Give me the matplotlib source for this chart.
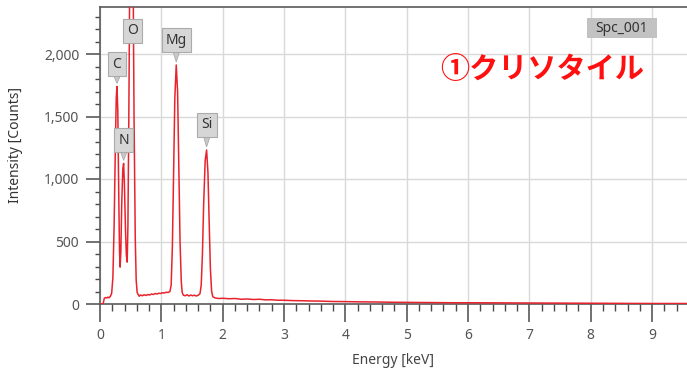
import matplotlib
matplotlib.use("Agg")
import matplotlib.pyplot as plt
from matplotlib.patches import Rectangle
from matplotlib.ticker import MultipleLocator, FuncFormatter

# ---- data ----
energy_kev = [0.00, 0.05, 0.07, 0.09, 0.11, 0.13, 0.15, 0.17, 0.19, 0.21, 0.23, 0.25,
              0.265, 0.277, 0.29, 0.305, 0.318, 0.328, 0.34, 0.355, 0.372, 0.385,
              0.398, 0.415, 0.43, 0.443, 0.455, 0.47, 0.49, 0.513, 0.535, 0.555,
              0.575, 0.59, 0.605, 0.62, 0.64, 0.66, 0.69, 0.72, 0.75, 0.78, 0.81,
              0.84, 0.87, 0.90, 0.93, 0.96, 0.99, 1.02, 1.05, 1.08, 1.11, 1.14,
              1.16, 1.18, 1.20, 1.22, 1.243, 1.265, 1.285, 1.305, 1.325, 1.34,
              1.36, 1.39, 1.42, 1.45, 1.48, 1.51, 1.54, 1.57, 1.60, 1.63, 1.65,
              1.67, 1.69, 1.715, 1.738, 1.76, 1.78, 1.80, 1.82, 1.84, 1.87, 1.90,
              1.95, 2.00, 2.10, 2.20, 2.30, 2.40, 2.50, 2.60, 2.70, 2.80, 2.90,
              3.00, 3.15, 3.30, 3.45, 3.60, 3.80, 4.00, 4.25, 4.50, 4.75, 5.00,
              5.25, 5.50, 5.75, 6.00, 6.50, 7.00, 7.50, 8.00, 8.50, 9.00, 9.60]
counts = [0, 0, 45, 52, 48, 55, 50, 62, 85, 210, 620, 1250,
          1650, 1740, 1550, 900, 420, 295, 420, 820, 1080, 1125,
          960, 600, 390, 335, 620, 1500, 3000, 4200, 3000, 1500,
          520, 190, 95, 78, 62, 72, 66, 74, 68, 76, 72,
          80, 76, 84, 80, 86, 84, 90, 88, 94, 92, 100,
          150, 460, 1050, 1650, 1912, 1700, 1100, 500, 180, 92,
          70, 66, 74, 64, 72, 66, 70, 64, 70, 82, 150,
          400, 800, 1150, 1232, 1050, 650, 280, 100, 58, 50, 46,
          44, 46, 42, 44, 38, 40, 36, 38, 33, 34, 30,
          30, 27, 26, 24, 23, 20, 19, 17, 16, 14, 13,
          12, 11, 10, 10, 9, 8, 7, 6, 5, 4, 4]

peak_labels = ["C", "N", "O", "Mg", "Si"]
peak_energy = [0.277, 0.385, 0.513, 1.243, 1.738]
peak_counts = [1740, 1125, 2100, 1912, 1232]
label_energy = [0.277, 0.39, 0.53, 1.246, 1.743]
label_counts = [1920, 1312, 2184, 2112, 1432]

x_max = 9.57
y_max = 2376
spectrum_name = "Spc_001"
sample_title = "①クリソタイル"

# ---- figure ----
W, H = 687, 371
fig = plt.figure(figsize=(W / 100, H / 100), dpi=100)
ax = fig.add_axes([100 / W, 67 / H, 587 / W, 297 / H])

font = "Noto Sans"
tick_col = "#4a4a4a"

ax.plot(energy_kev, counts, color="#e8232d", lw=1.1, zorder=3)

ax.set_xlim(0, x_max)
ax.set_ylim(0, y_max)

ax.xaxis.set_major_locator(MultipleLocator(1))
ax.xaxis.set_minor_locator(MultipleLocator(0.2))
ax.yaxis.set_major_locator(MultipleLocator(500))
ax.yaxis.set_minor_locator(MultipleLocator(100))
ax.yaxis.set_major_formatter(FuncFormatter(lambda v, p: f"{int(v):,}"))

ax.grid(True, which="major", color="#d9d9d9", lw=1.0, zorder=0)
ax.set_axisbelow(True)

ax.tick_params(axis="x", which="major", length=13, width=1.1, color=tick_col,
               pad=4, labelsize=10, labelcolor="#555555")
ax.tick_params(axis="x", which="minor", length=5, width=1.0, color=tick_col)
ax.tick_params(axis="y", which="major", length=10, width=1.1, color=tick_col,
               pad=5, labelsize=10, labelcolor="#555555")
ax.tick_params(axis="y", which="minor", length=3.6, width=1.0, color=tick_col)
for lab in ax.get_xticklabels() + ax.get_yticklabels():
    lab.set_family(font)

for s in ["left", "bottom", "top"]:
    ax.spines[s].set_color("#5a5a5a")
    ax.spines[s].set_linewidth(1.2)
ax.spines["right"].set_visible(False)

ax.set_xlabel("Energy [keV]", family=font, fontsize=10, color="#444444", va="center")
ax.xaxis.set_label_coords(0.499, (304 - 360) / 297)
ax.set_ylabel("Intensity [Counts]", family=font, fontsize=10, color="#333333", va="center")
ax.yaxis.set_label_coords((16 - 100) / 587, (304 - 145) / 297)

# peak callouts
for lab, pe, pc, le, lc in zip(peak_labels, peak_energy, peak_counts, label_energy, label_counts):
    ax.annotate(lab, xy=(pe, pc + 25), xytext=(le, lc), ha="center", va="center",
                family=font, fontsize=10, color="#333333", zorder=5,
                bbox=dict(boxstyle="square,pad=0.3", fc="#d6d6d6", ec="#ababab", lw=0.8),
                arrowprops=dict(arrowstyle="wedge,tail_width=0.45,shrink_factor=0.5",
                                fc="#c8c8c8", ec="#ababab", lw=0.6, shrinkA=0, shrinkB=0),
                annotation_clip=False)

# spectrum name tag
ax.add_patch(Rectangle(((587 - 100) / 587, (304 - 38) / 297), 70 / 587, 20 / 297,
                       transform=ax.transAxes, fc="#c2c2c2", ec="none", zorder=5))
ax.text((622 - 100) / 587, (304 - 28) / 297, spectrum_name, transform=ax.transAxes,
        ha="center", va="center", family=font, fontsize=10, color="#333333", zorder=6)

# sample title
ax.text((542 - 100) / 587, (304 - 69) / 297, sample_title, transform=ax.transAxes,
        ha="center", va="center", family=["Noto Sans CJK JP", "DejaVu Sans"],
        fontsize=21, fontweight="bold", color="#ff1010", zorder=6)

fig.savefig("out.png", dpi=100)
